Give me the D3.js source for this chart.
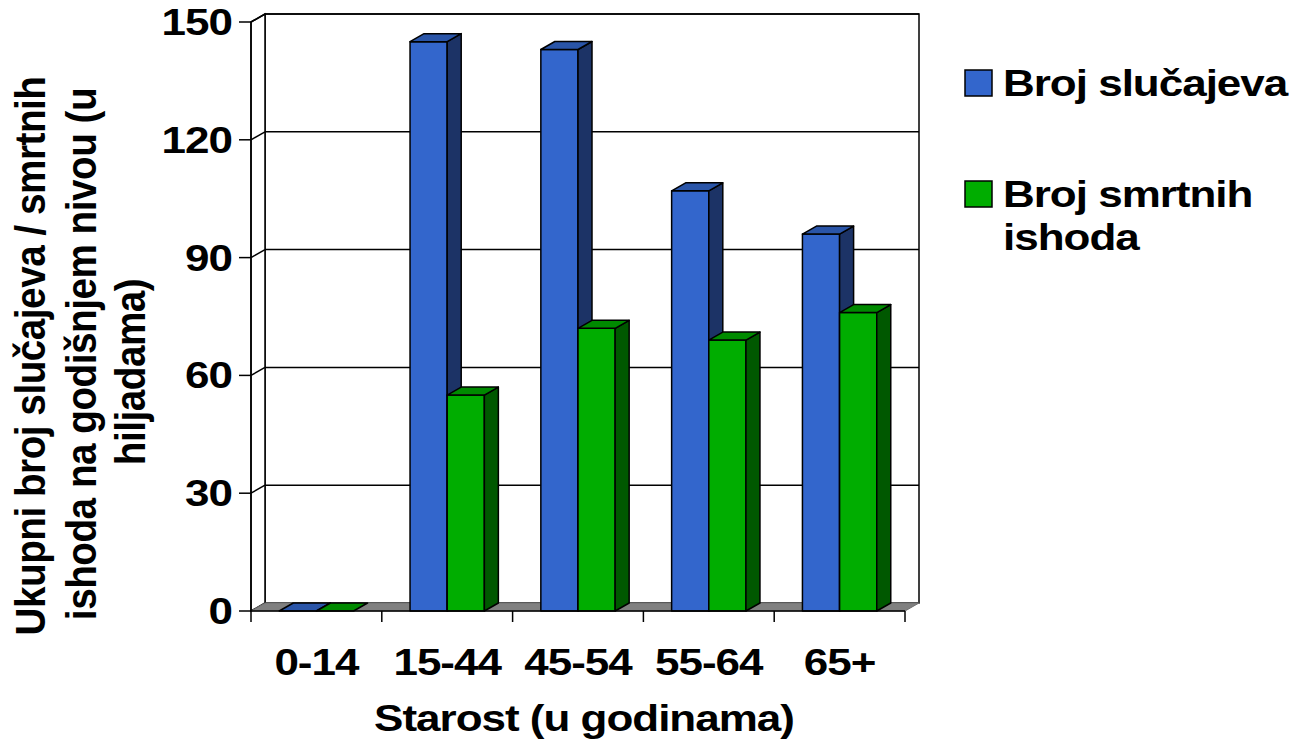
<!DOCTYPE html>
<html>
<head>
<meta charset="utf-8">
<script src="https://cdn.jsdelivr.net/npm/d3@7"></script>
<style>
  html, body { margin: 0; padding: 0; background: #fff; }
  text { font-family: Arial, "Liberation Sans", sans-serif; font-weight: bold; fill: #000; }
</style>
</head>
<body>
<svg id="chart" width="1304" height="744"></svg>
<script>
// Chart data (values in thousands)
const categories = ["0-14", "15-44", "45-54", "55-64", "65+"];
const seriesNames = ["Broj slučajeva", "Broj smrtnih ishoda"];
const cases = [0, 145, 143, 107, 96];
const deaths = [0, 55, 72, 69, 76];
const yTicks = [0, 30, 60, 90, 120, 150];
const legendLines = [["Broj slučajeva"], ["Broj smrtnih", "ishoda"]];
const yTitleLines = ["Ukupni broj slučajeva / smrtnih", "ishoda na godišnjem nivou (u", "hiljadama)"];
const xTitle = "Starost (u godinama)";

// Colours per series: front, top, side
const colors = [
  { front: "#3366cc", top: "#2a55a8", side: "#1c3366" },
  { front: "#00ad00", top: "#008a00", side: "#005800" }
];

// Layout of the front plane and 3D depth offset
const plot = { left: 251, right: 905, top: 22, bottom: 611 };
const dx = 14, dy = -8;
const squash = 0.86; // text in the reference is flattened vertically
const fontSize = "44px";

const svg = d3.select("#chart");

// Scales
const x0 = d3.scaleBand().domain(categories).range([plot.left, plot.right]).padding(0);
const x1 = d3.scaleBand().domain(seriesNames).range([0, x0.bandwidth()])
  .paddingInner(0).paddingOuter(0.76);
const y = d3.scaleLinear().domain([0, 150]).range([plot.bottom, plot.top]);

const pts = (arr) => arr.map((p) => p.join(",")).join(" ");

// Back wall
svg.append("rect")
  .attr("x", plot.left + dx).attr("y", plot.top + dy)
  .attr("width", plot.right - plot.left).attr("height", plot.bottom - plot.top)
  .attr("fill", "#fff").attr("stroke", "#000").attr("stroke-width", 1.5);

// Side wall
svg.append("polygon")
  .attr("points", pts([[plot.left, plot.top], [plot.left + dx, plot.top + dy],
    [plot.left + dx, plot.bottom + dy], [plot.left, plot.bottom]]))
  .attr("fill", "#fff").attr("stroke", "#000").attr("stroke-width", 1.5);

// Gridlines on back wall + diagonals on side wall
yTicks.forEach((t) => {
  if (t === 0) return;
  svg.append("line")
    .attr("x1", plot.left + dx).attr("x2", plot.right + dx)
    .attr("y1", y(t) + dy).attr("y2", y(t) + dy)
    .attr("stroke", "#000").attr("stroke-width", 1.5);
  svg.append("line")
    .attr("x1", plot.left).attr("x2", plot.left + dx)
    .attr("y1", y(t)).attr("y2", y(t) + dy)
    .attr("stroke", "#000").attr("stroke-width", 1.5);
});

// Floor
svg.append("polygon")
  .attr("points", pts([[plot.left, plot.bottom], [plot.left + dx, plot.bottom + dy],
    [plot.right + dx, plot.bottom + dy], [plot.right, plot.bottom]]))
  .attr("fill", "#808080").attr("stroke", "#707070").attr("stroke-width", 1);

// Bars (3D boxes)
const values = [cases, deaths];
categories.forEach((c, i) => {
  seriesNames.forEach((s, k) => {
    const v = values[k][i];
    const bx = x0(c) + x1(s);
    const w = x1.bandwidth();
    const yt = y(v);
    const yb = y(0);
    const col = colors[k];
    const g = svg.append("g").attr("stroke", "#000").attr("stroke-width", 1.5)
      .attr("stroke-linejoin", "round");
    if (v > 0) {
      g.append("rect").attr("x", bx).attr("y", yt).attr("width", w).attr("height", yb - yt)
        .attr("fill", col.front);
      g.append("polygon")
        .attr("points", pts([[bx + w, yt], [bx + w + dx, yt + dy], [bx + w + dx, yb + dy], [bx + w, yb]]))
        .attr("fill", col.side);
    }
    g.append("polygon")
      .attr("points", pts([[bx, yt], [bx + dx, yt + dy], [bx + w + dx, yt + dy], [bx + w, yt]]))
      .attr("fill", col.top);
  });
});

// Y axis
svg.append("line")
  .attr("x1", plot.left).attr("x2", plot.left)
  .attr("y1", plot.top).attr("y2", plot.bottom)
  .attr("stroke", "#000").attr("stroke-width", 1.5);
yTicks.forEach((t) => {
  svg.append("line")
    .attr("x1", plot.left - 12).attr("x2", plot.left)
    .attr("y1", y(t)).attr("y2", y(t))
    .attr("stroke", "#000").attr("stroke-width", 1.5);
  svg.append("text")
    .attr("transform", `translate(${plot.left - 19},${y(t) + 13}) scale(1,${squash})`)
    .attr("text-anchor", "end")
    .style("font-size", fontSize)
    .style("letter-spacing", "-1px")
    .text(t);
});

// X axis
svg.append("line")
  .attr("x1", plot.left).attr("x2", plot.right)
  .attr("y1", plot.bottom).attr("y2", plot.bottom)
  .attr("stroke", "#000").attr("stroke-width", 1.5);
const xEdges = categories.map((c) => x0(c)).concat([plot.right]);
xEdges.forEach((xe) => {
  svg.append("line")
    .attr("x1", xe).attr("x2", xe)
    .attr("y1", plot.bottom).attr("y2", plot.bottom + 11)
    .attr("stroke", "#000").attr("stroke-width", 1.5);
});
categories.forEach((c) => {
  svg.append("text")
    .attr("transform", `translate(${x0(c) + x0.bandwidth() / 2},675) scale(1,${squash})`)
    .attr("text-anchor", "middle")
    .style("font-size", fontSize)
    .style("letter-spacing", "-1px")
    .text(c);
});

// X title
svg.append("text")
  .attr("transform", `translate(${(plot.left + plot.right) / 2 + 6},731) scale(1,${squash})`)
  .attr("text-anchor", "middle")
  .style("font-size", fontSize)
  .style("letter-spacing", "-1px")
  .text(xTitle);

// Y title (three rotated lines)
const yTitleX = [45, 96, 145];
const yTitleY = [356, 354, 372];
yTitleLines.forEach((line, i) => {
  svg.append("text")
    .attr("transform", `translate(${yTitleX[i]},${yTitleY[i]}) scale(1,0.92) rotate(-90)`)
    .attr("text-anchor", "middle")
    .style("font-size", "42px")
    .style("letter-spacing", "-0.5px")
    .text(line);
});

// Legend
const legendTop = [70, 181];
legendLines.forEach((lines, k) => {
  svg.append("rect")
    .attr("x", 965).attr("y", legendTop[k]).attr("width", 27).attr("height", 26)
    .attr("fill", colors[k].front).attr("stroke", "#000").attr("stroke-width", 1.5);
  lines.forEach((ln, j) => {
    svg.append("text")
      .attr("transform", `translate(1003,${legendTop[k] + 26 + j * 43}) scale(1,${squash})`)
      .style("font-size", fontSize)
      .style("letter-spacing", "-1px")
      .text(ln);
  });
});
</script>
</body>
</html>
